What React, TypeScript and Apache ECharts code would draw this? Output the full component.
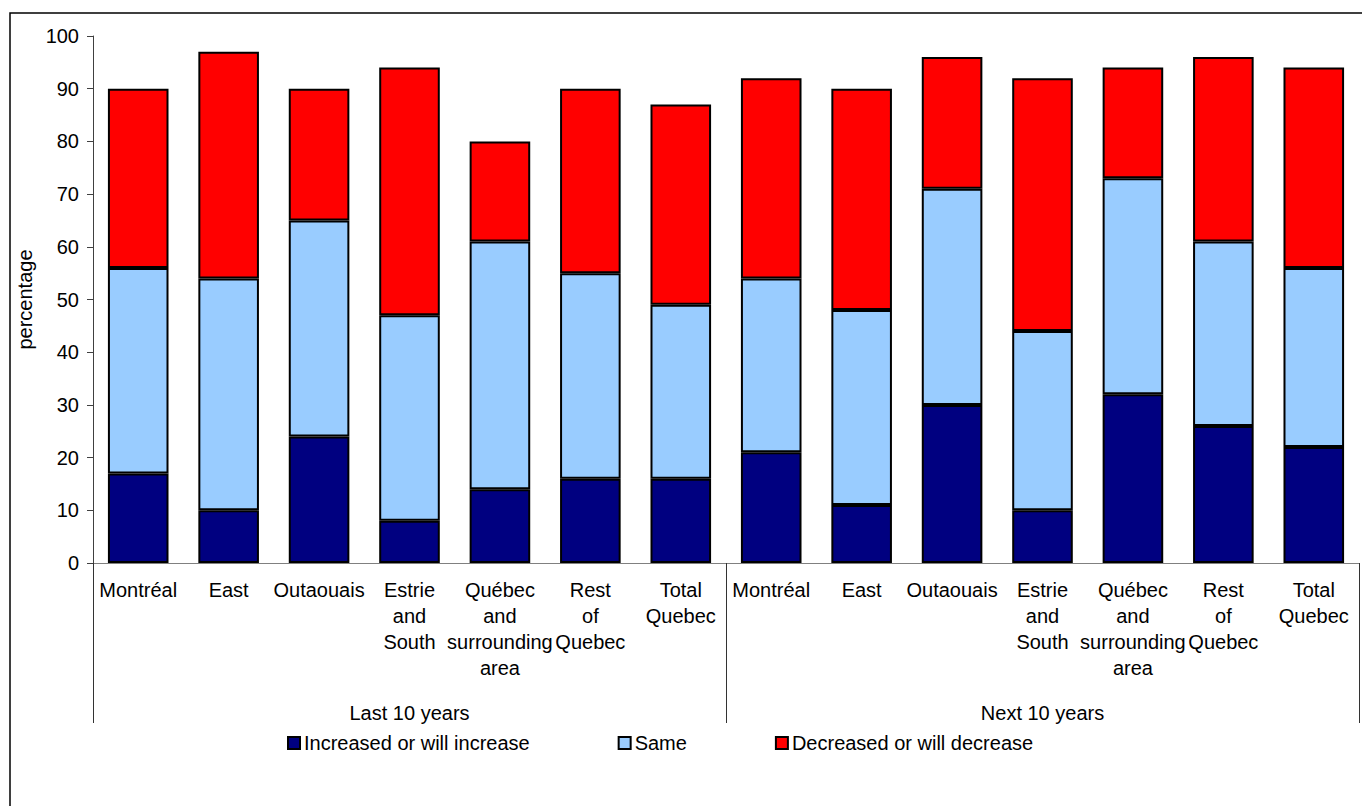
import React, { useEffect, useRef } from "react";
import * as echarts from "echarts";

const regions = [
  "Montréal",
  "East",
  "Outaouais",
  "Estrie\nand\nSouth",
  "Québec\nand\nsurrounding\narea",
  "Rest\nof\nQuebec",
  "Total\nQuebec",
];
const periods = ["Last 10 years", "Next 10 years"];
const categories = [...regions, ...regions];

const increased = [17, 10, 24, 8, 14, 16, 16, 21, 11, 30, 10, 32, 26, 22];
const same = [39, 44, 41, 39, 47, 39, 33, 33, 37, 41, 34, 41, 35, 34];
const decreased = [34, 43, 25, 47, 19, 35, 38, 38, 42, 25, 48, 21, 35, 38];

const seriesNames = ["Increased or will increase", "Same", "Decreased or will decrease"];
const seriesColors = ["#000080", "#99CCFF", "#FF0000"];

const yTicks = { min: 0, max: 100, interval: 10 };

const FONT = "'Liberation Sans', Arial, sans-serif";

export default function App() {
  const ref = useRef<HTMLDivElement>(null);

  useEffect(() => {
    if (!ref.current) return;
    const chart = echarts.init(ref.current, undefined, { renderer: "svg" });
    const values = [increased, same, decreased];
    chart.setOption({
      animation: false,
      backgroundColor: "#ffffff",
      textStyle: { fontFamily: FONT, color: "#000" },
      grid: { left: 93, right: 3, top: 36, bottom: 243, containLabel: false },
      legend: {
        left: 282,
        top: 728,
        itemWidth: 12,
        itemHeight: 12,
        itemGap: 88,
        icon: "rect",
        itemStyle: { borderColor: "#000", borderWidth: 2 },
        textStyle: { fontFamily: FONT, fontSize: 20, color: "#000", padding: [0, 0, 0, -1] },
        data: seriesNames,
      },
      xAxis: [
        {
          type: "category",
          data: categories,
          position: "bottom",
          axisLine: { show: true, lineStyle: { color: "#808080", width: 1 } },
          axisTick: { show: false },
          axisLabel: {
            interval: 0,
            margin: 14,
            fontFamily: FONT,
            fontSize: 20,
            lineHeight: 26,
            color: "#000",
            align: "center",
          },
        },
        {
          type: "category",
          data: periods,
          position: "bottom",
          axisLine: { show: false },
          axisTick: { show: true, length: 160, lineStyle: { color: "#333", width: 1 } },
          axisLabel: { interval: 0, margin: 140, fontFamily: FONT, fontSize: 20, color: "#000" },
        },
      ],
      yAxis: {
        type: "value",
        min: yTicks.min,
        max: yTicks.max,
        interval: yTicks.interval,
        name: "percentage",
        nameLocation: "middle",
        nameGap: 50,
        nameRotate: 90,
        nameTextStyle: { fontFamily: FONT, fontSize: 20, color: "#000" },
        axisLine: { show: true, lineStyle: { color: "#404040", width: 1 } },
        axisTick: { show: true, length: 6, inside: false, lineStyle: { color: "#404040" } },
        splitLine: { show: false },
        axisLabel: { margin: 14, fontFamily: FONT, fontSize: 20, color: "#000" },
      },
      graphic: [
        {
          type: "rect",
          shape: { x: 10, y: 13, width: 1500, height: 1000 },
          style: { fill: "none", stroke: "#000", lineWidth: 1.5 },
          silent: true,
        },
      ],
      series: values.map((v, i) => ({
        name: seriesNames[i],
        type: "bar",
        stack: "total",
        xAxisIndex: 0,
        barCategoryGap: "33%",
        data: v,
        itemStyle: { color: seriesColors[i], borderColor: "#000", borderWidth: 2 },
      })),
    });
    return () => chart.dispose();
  }, []);

  return (
    <div
      ref={ref}
      style={{ position: "fixed", left: 0, top: 0, width: 1362, height: 806 }}
    />
  );
}
